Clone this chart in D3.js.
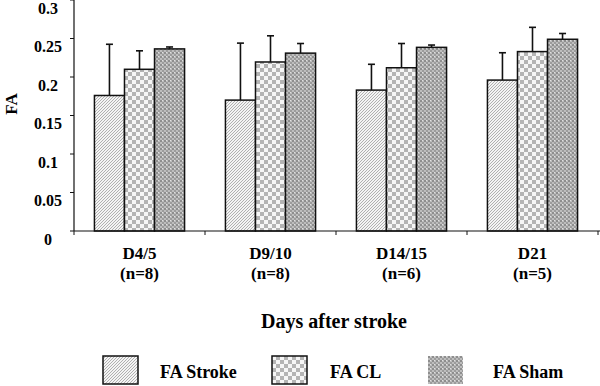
<!DOCTYPE html>
<html><head><meta charset="utf-8">
<script src="https://cdn.jsdelivr.net/npm/d3@7"></script>
<style>
html,body{margin:0;padding:0;background:#fff;}
svg{display:block;font-family:"Liberation Serif","Times New Roman",serif;font-weight:bold;}
</style></head>
<body><svg id="c" width="600" height="386"></svg>
<script>
const categories = ["D4/5", "D9/10", "D14/15", "D21"];
const categorySub = ["(n=8)", "(n=8)", "(n=6)", "(n=5)"];
const series = ["FA Stroke", "FA CL", "FA Sham"];
const strokeVals = [0.176, 0.170, 0.183, 0.196];
const clVals     = [0.210, 0.2195, 0.212, 0.233];
const shamVals   = [0.2365, 0.231, 0.2385, 0.249];
const strokeErr  = [0.2425, 0.244, 0.2165, 0.2315];
const clErr      = [0.234, 0.2535, 0.2435, 0.2645];
const shamErr    = [0.239, 0.2435, 0.2415, 0.2565];
const yTicks = [0, 0.05, 0.1, 0.15, 0.2, 0.25, 0.3];
const yLabel = "FA";
const xTitle = "Days after stroke";

const vals = [strokeVals, clVals, shamVals];
const errs = [strokeErr, clErr, shamErr];

const svg = d3.select("#c");
const defs = svg.append("defs");

// patterns
const p1 = defs.append("pattern").attr("id","pStroke").attr("patternUnits","userSpaceOnUse")
  .attr("width",3).attr("height",3);
p1.append("rect").attr("width",3).attr("height",3).attr("fill","#f4f4f4");
p1.append("path").attr("d","M-1,1 L1,-1 M0,3 L3,0 M2,4 L4,2").attr("stroke","#a8a8a8").attr("stroke-width",0.9);

const p2 = defs.append("pattern").attr("id","pCL").attr("patternUnits","userSpaceOnUse")
  .attr("width",8).attr("height",8);
p2.append("rect").attr("width",8).attr("height",8).attr("fill","#f6f6f6");
p2.append("rect").attr("width",4).attr("height",4).attr("fill","#b4b4b4");
p2.append("rect").attr("x",4).attr("y",4).attr("width",4).attr("height",4).attr("fill","#b4b4b4");

const p3 = defs.append("pattern").attr("id","pSham").attr("patternUnits","userSpaceOnUse")
  .attr("width",4).attr("height",4);
p3.append("rect").attr("width",4).attr("height",4).attr("fill","#bdbdbd");
p3.append("rect").attr("width",2).attr("height",2).attr("fill","#8e8e8e");
p3.append("rect").attr("x",2).attr("y",2).attr("width",2).attr("height",2).attr("fill","#9c9c9c");
p3.append("rect").attr("x",2).attr("y",0).attr("width",1).attr("height",1).attr("fill","#e0e0e0");

const fills = ["url(#pStroke)","url(#pCL)","url(#pSham)"];

const x0 = d3.scaleBand().domain(categories).range([74, 598]).padding(0);
const x1 = d3.scaleBand().domain(series).range([0, x0.bandwidth()]).paddingInner(0).paddingOuter(0.68);
const y = d3.scaleLinear().domain([0, 0.3]).range([231, 0]);

// bars
const g = svg.append("g");
categories.forEach((c, ci) => {
  series.forEach((s, si) => {
    const xb = x0(c) + x1(s);
    const v = vals[si][ci], e = errs[si][ci];
    const cx = xb + x1.bandwidth()/2;
    // error bar
    g.append("line").attr("x1",cx).attr("x2",cx).attr("y1",y(v)).attr("y2",y(e))
      .attr("stroke","#111").attr("stroke-width",1.6);
    g.append("line").attr("x1",cx-3.5).attr("x2",cx+3.5).attr("y1",y(e)).attr("y2",y(e))
      .attr("stroke","#111").attr("stroke-width",1.6);
  });
});
categories.forEach((c, ci) => {
  series.forEach((s, si) => {
    const xb = x0(c) + x1(s);
    const v = vals[si][ci];
    g.append("rect").attr("x",xb).attr("y",y(v)).attr("width",x1.bandwidth()).attr("height",y(0)-y(v))
      .attr("fill",fills[si]).attr("stroke","#111").attr("stroke-width",1.5);
  });
});

// y axis
svg.append("line").attr("x1",74).attr("x2",74).attr("y1",y(0.3)).attr("y2",y(0)).attr("stroke","#111").attr("stroke-width",1.2);
yTicks.forEach(t => {
  svg.append("line").attr("x1",70).attr("x2",74).attr("y1",y(t)).attr("y2",y(t)).attr("stroke","#111").attr("stroke-width",1);
  svg.append("text").attr("x",48).attr("y",y(t)+8).attr("text-anchor","middle").attr("dominant-baseline","central")
    .attr("font-size",16).text(d3.format("~g")(t));
});

// x axis
svg.append("line").attr("x1",74).attr("x2",600).attr("y1",231).attr("y2",231).attr("stroke","#111").attr("stroke-width",1.2);
const bounds = categories.map(c => x0(c)).concat([x0.range()[1]]);
bounds.forEach(b => {
  svg.append("line").attr("x1",b).attr("x2",b).attr("y1",231).attr("y2",235).attr("stroke","#111").attr("stroke-width",1);
});
categories.forEach((c, ci) => {
  const cx = x0(c) + x0.bandwidth()/2;
  svg.append("text").attr("x",cx).attr("y",253).attr("text-anchor","middle").attr("dominant-baseline","central")
    .attr("font-size",17).text(c);
  svg.append("text").attr("x",cx).attr("y",273).attr("text-anchor","middle").attr("dominant-baseline","central")
    .attr("font-size",17).text(categorySub[ci]);
});

// axis titles
svg.append("text").attr("transform","translate(11,104) rotate(-90)").attr("text-anchor","middle")
  .attr("dominant-baseline","central").attr("font-size",17).text(yLabel);
svg.append("text").attr("x",334).attr("y",321).attr("text-anchor","middle").attr("dominant-baseline","central")
  .attr("font-size",20).text(xTitle);

// legend
const legX = [103, 272, 428];
const legTX = [160, 330, 493];
const legBorder = [true, true, false];
series.forEach((s, si) => {
  svg.append("rect").attr("x",legX[si]).attr("y",356).attr("width",35).attr("height",28)
    .attr("fill",fills[si]).attr("stroke",legBorder[si] ? "#111" : "none").attr("stroke-width",1.5);
  svg.append("text").attr("x",legTX[si]).attr("y",372).attr("dominant-baseline","central")
    .attr("font-size",18).text(s);
});
</script></body></html>
